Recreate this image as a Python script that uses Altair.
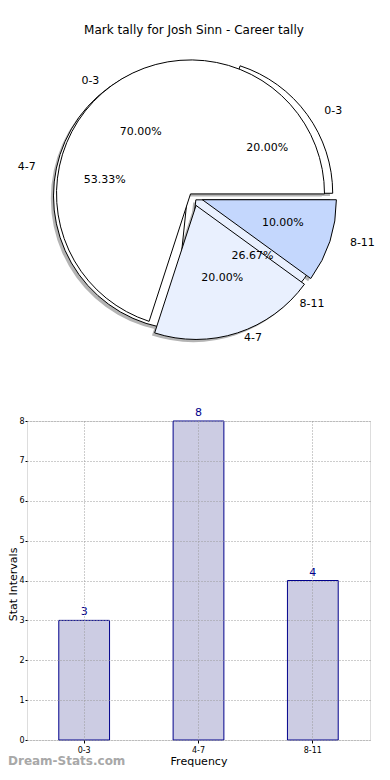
import math
import altair as alt
import pandas as pd

# ---------------- data ----------------
categories = ["0-3", "4-7", "8-11"]
tally_counts = [3, 8, 4]            # bar heights, also the 2nd pie
share_pct = [70.0, 20.0, 10.0]      # first pie percentages
y_tick_values = [0, 1, 2, 3, 4, 5, 6, 7, 8]
chart_title = "Mark tally for Josh Sinn - Career tally"
x_title = "Frequency"
y_title = "Stat Intervals"
watermark = "Dream-Stats.com"

# ---------------- layout / style ----------------
PLOT_LEFT, PLOT_TOP = 27, 421        # page px of the bar plot area
PLOT_W, PLOT_H = 343, 319
PAD = dict(left=PLOT_LEFT - 8, top=PLOT_TOP - 8, right=6, bottom=30)
CX, CY = 193 - PLOT_LEFT, 197 - PLOT_TOP   # pie centre, view-local px
R = 134
RX, RY = 141, 127
SHADOW = 0.02
explode_share = [0.03, 0.07, 0.07]
explode_tally = [0.05, 0.04, 0.03]
fill_share = ["#ffffff", "#e9f0fe", "#c4d7fd"]
fill_tally = ["#ffffff", "#ffffff", "#e9f0fe"]
FONT = "DejaVu Sans"


def pie_frame(values, explode, fills, name):
    total = float(sum(values))
    rows, acc = [], 0.0
    for cat, v, e, f in zip(categories, values, explode, fills):
        pct = 100.0 * v / total
        start, end = acc, acc + pct
        acc = end
        mid = 2 * math.pi * (start + end) / 200.0
        c, s = math.cos(mid), math.sin(mid)
        ax = CX + e * RX * c
        ay = CY - e * RY * s
        rows.append(dict(pie=name, cat=cat, pct=pct, start=start, end=end, fill=f,
                         ax=ax, ay=ay, sx=ax - SHADOW * R, sy=ay + SHADOW * R,
                         px=ax + 0.6 * RX * c, py=ay - 0.6 * RY * s,
                         lx=ax + 1.1 * RX * c, ly=ay - 1.1 * RY * s,
                         side="left" if c > 0 else "right",
                         pct_text=f"{pct:.2f}%"))
    return pd.DataFrame(rows)


dfA = pie_frame(share_pct, explode_share, fill_share, "share")
dfB = pie_frame(tally_counts, explode_tally, fill_tally, "tally")
df_all = pd.concat([dfB, dfA], ignore_index=True)

theta_scale = alt.Scale(domain=[0, 100], range=[2.5 * math.pi, 0.5 * math.pi])


def arcs(df, xf, yf, **mark):
    return alt.Chart(df).mark_arc(radius=R, **mark).encode(
        theta=alt.Theta("start:Q", scale=theta_scale),
        theta2="end:Q",
        x=alt.X(f"{xf}:Q", scale=None, axis=None),
        y=alt.Y(f"{yf}:Q", scale=None, axis=None),
    )


shadows = arcs(df_all, "sx", "sy", fill="#b4b4b4", strokeWidth=0)
arcsB = arcs(dfB, "ax", "ay", stroke="black", strokeWidth=1).encode(
    fill=alt.Fill("fill:N", scale=None))
arcsA = arcs(dfA, "ax", "ay", stroke="black", strokeWidth=1).encode(
    fill=alt.Fill("fill:N", scale=None))

pct_text = alt.Chart(df_all).mark_text(font=FONT, fontSize=11, color="black").encode(
    x=alt.X("px:Q", scale=None, axis=None),
    y=alt.Y("py:Q", scale=None, axis=None),
    text="pct_text:N",
)


def side_labels(side):
    return alt.Chart(df_all).transform_filter(alt.datum.side == side).mark_text(
        font=FONT, fontSize=11, color="black", align=side, baseline="middle"
    ).encode(
        x=alt.X("lx:Q", scale=None, axis=None),
        y=alt.Y("ly:Q", scale=None, axis=None),
        text="cat:N",
    )


labelsL = side_labels("left")
labelsR = side_labels("right")

title = alt.Chart(pd.DataFrame({"t": [chart_title]})).mark_text(
    font=FONT, fontSize=12, color="black"
).encode(x=alt.value(194 - PLOT_LEFT), y=alt.value(30 - PLOT_TOP), text="t:N")

# ---------------- bar chart ----------------
bar_df = pd.DataFrame({"cat": categories, "count": tally_counts})

x_enc = alt.X(
    "cat:N", sort=categories,
    scale=alt.Scale(paddingInner=0.556, paddingOuter=0.278),
    axis=alt.Axis(title=x_title, labelAngle=0, labelFont=FONT, labelFontSize=8,
                  labelColor="black", titleFont=FONT, titleFontSize=11,
                  titleFontWeight="normal", titleColor="black", grid=True,
                  gridDash=[1, 2], gridColor="#9a9a9a", bandPosition=0.5,
                  tickSize=3, tickColor="black", domain=False, labelPadding=3,
                  titlePadding=1, zindex=1),
)
y_enc = alt.Y(
    "count:Q",
    scale=alt.Scale(domain=[0, 8], nice=False),
    axis=alt.Axis(values=y_tick_values, title=None, labelFont=FONT, labelFontSize=8,
                  labelColor="black", grid=True, gridDash=[1, 2], gridColor="#9a9a9a",
                  tickSize=2, tickColor="black", domain=False, labelPadding=1,
                  labelOverlap=False, format="d", zindex=1),
)

bars = alt.Chart(bar_df).mark_bar(fill="#cccce3", stroke="#00008b", strokeWidth=1).encode(
    x=x_enc, y=y_enc)
bar_values = alt.Chart(bar_df).mark_text(
    font=FONT, fontSize=11, color="#00008b", dy=-8
).encode(x=x_enc, y=y_enc, text="count:Q")

ytitle = alt.Chart(pd.DataFrame({"t": [y_title]})).mark_text(
    font=FONT, fontSize=11, color="black", angle=270
).encode(x=alt.value(14 - PLOT_LEFT), y=alt.value(PLOT_H / 2 + 4), text="t:N")

wm = alt.Chart(pd.DataFrame({"t": [watermark]})).mark_text(
    font=FONT, fontSize=12, fontWeight="bold", color="#a8a8a8", align="left"
).encode(x=alt.value(8 - PLOT_LEFT), y=alt.value(340), text="t:N")

chart = alt.layer(
    shadows, arcsB, arcsA, pct_text, labelsL, labelsR, title,
    bars, bar_values, ytitle, wm
).properties(
    width=PLOT_W, height=PLOT_H,
    autosize=alt.AutoSizeParams(type="none"),
    padding=PAD,
).configure_view(stroke="black", strokeWidth=1).configure(background="white")

chart.save("out.html", embed_options={"renderer": "svg", "actions": False})
